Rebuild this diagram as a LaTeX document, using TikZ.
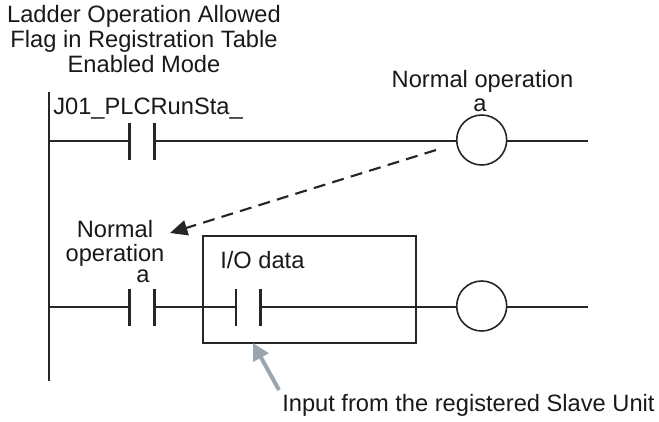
\documentclass[tikz,border=0pt]{standalone}
\usepackage{fontspec}
\setmainfont{Liberation Sans}
\usetikzlibrary{arrows.meta}

\definecolor{inputgray}{HTML}{9BA5AD}

\tikzset{
  wire/.style={line width=1.5pt, black!85},
  contact/.style={inner sep=0pt, outer sep=0pt, minimum width=18.4pt, minimum height=27.75pt},
  contactbar/.style={line width=2.1pt, black!85},
  coil/.style={circle, draw=black!85, line width=1.2pt, inner sep=0pt, outer sep=0pt, minimum size=37.5pt},
  label/.style={font=\fontsize{17.75}{18}\selectfont, black!90, inner sep=0pt, align=center},
}

\begin{document}
\begin{tikzpicture}[x=0.75pt, y=-0.75pt]
  \useasboundingbox (0,0) rectangle (659,421);

  % Power rail
  \coordinate (railtop) at (48.5,92);
  \coordinate (railbot) at (48.5,381);
  \draw[wire] (railtop) -- (railbot);

  % Upper rung
  \coordinate (upleft) at (48.5,141);
  \coordinate (upright) at (588,141);
  \node[contact] (runsta) at (142,141) {};
  \node[coil] (upcoil) at (481.7,140) {};
  \draw[wire] (upleft) -- (runsta.west);
  \draw[wire] (runsta.east) -- (upcoil.west |- runsta.east);
  \draw[wire] (upcoil.east |- upright) -- (upright);

  % Lower rung
  \coordinate (lowleft) at (48.5,307);
  \coordinate (lowright) at (588,307);
  \node[contact] (normal) at (142,307) {};
  \node[contact] (iodata) at (248.3,307) {};
  \node[coil] (lowcoil) at (481.7,306) {};
  \draw[wire] (lowleft) -- (normal.west);
  \draw[wire] (normal.east) -- (iodata.west);
  \draw[wire] (iodata.east) -- (lowcoil.west |- iodata.east);
  \draw[wire] (lowcoil.east |- lowright) -- (lowright);

  % Contact bars
  \foreach \c in {runsta,normal,iodata} {
    \draw[contactbar] (\c.north west) -- (\c.south west);
    \draw[contactbar] (\c.north east) -- (\c.south east);
  }

  % I/O data box
  \node[draw=black!85, line width=1.3pt, inner sep=0pt, outer sep=0pt,
        minimum width=160pt, minimum height=80pt] (iobox) at (309.3,289.5) {};

  % Arrows
  \coordinate (dashstart) at (436,150);
  \coordinate (dashtip) at (170,233);
  \draw[line width=1.6pt, black!85, dash pattern=on 9pt off 5.5pt,
        -{Triangle[length=13pt, width=11.5pt]}] (dashstart) -- (dashtip);
  \coordinate (inputstart) at (279,390);
  \coordinate (inputtip) at (253,343);
  \draw[line width=3pt, inputgray,
        -{Triangle[length=12.5pt, width=12.5pt]}] (inputstart) -- (inputtip);

  % Labels
  \node[label, anchor=base] (header) at (144,72.7)
      {Ladder Operation Allowed\\[0.75pt]Flag in Registration Table\\[0.75pt]Enabled Mode};
  \node[label, anchor=base west] (runstalabel) at (53,114) {J01\_PLCRunSta\_};
  \node[label, anchor=base] (uplabel) at (482.5,87.3) {Normal operation};
  \node[label, anchor=base] (upa) at (480,111) {a};
  \node[label, anchor=base] (lowlabel) at (115,261.7) {Normal\\operation};
  \node[label, anchor=base] (lowa) at (143,282.7) {a};
  \node[label, anchor=base west] (iolabel) at (220,268) {I/O data};
  \node[label, anchor=base west] (inputlabel) at (282,411.7) {Input from the registered Slave Unit};

\end{tikzpicture}
\end{document}
